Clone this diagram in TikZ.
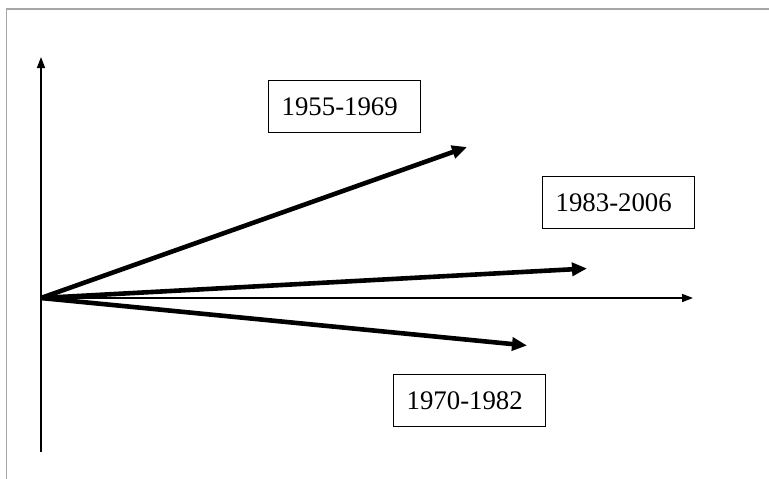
\documentclass[tikz,border=0pt]{standalone}
\usepackage{fontspec}
\setmainfont{Liberation Serif}
\usetikzlibrary{arrows.meta}
\begin{document}
\begin{tikzpicture}[x=1pt,y=-1pt,
  axis/.style={line width=1.6pt,-{Triangle[length=11pt,width=8pt]}},
  trend/.style={line width=4.6pt,-{Triangle[length=15pt,width=13pt]}},
  label/.style={draw,line width=1.3pt,inner xsep=13pt,inner ysep=0pt,text width=126pt,align=left,minimum height=52pt,anchor=north west,font=\fontsize{26.8}{30}\selectfont},
  frame/.style={draw=black!35,line width=1.4pt}]
\useasboundingbox (0,0) rectangle (769,479);
\draw[frame] (6.5,479) -- (6.5,9) -- (769,9);
\coordinate (o) at (41,298);
\coordinate (ytop) at (41,57);
\coordinate (ybot) at (41,452);
\coordinate (xend) at (693,298);
\coordinate (a1) at (467,147);
\coordinate (a2) at (587,268.5);
\coordinate (a3) at (527,345.5);
\draw[axis] (ybot) -- (ytop);
\draw[axis] (o) -- (xend);
\draw[trend] (o) -- (a1);
\draw[trend] (o) -- (a2);
\draw[trend] (o) -- (a3);
\node[label] (b1) at (268,80) {1955-1969};
\node[label] (b2) at (542,176) {1983-2006};
\node[label] (b3) at (393,374) {1970-1982};
\end{tikzpicture}
\end{document}
